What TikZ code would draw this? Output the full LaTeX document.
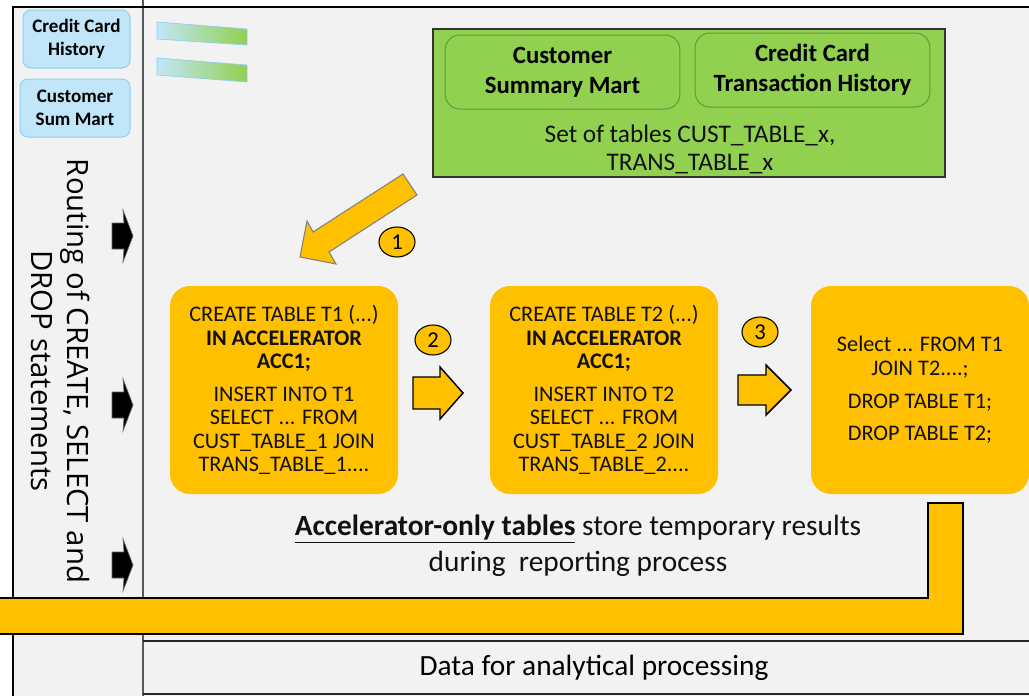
\documentclass[tikz,border=0pt]{standalone}
\usepackage{fontspec}
\setmainfont{Carlito}
\newfontfamily\routefont{Open Sans}
\usetikzlibrary{shapes.geometric}
\definecolor{bgc}{HTML}{F2F2F2}
\definecolor{orng}{HTML}{FFC000}
\definecolor{grn}{HTML}{92D050}
\definecolor{grnline}{HTML}{5F9A3C}
\definecolor{bluef}{HTML}{C2E6F9}
\definecolor{blued}{HTML}{8ECFF0}
\definecolor{vline}{HTML}{595959}
\definecolor{txt}{HTML}{111111}
\begin{document}
\begin{tikzpicture}[x=0.75pt,y=-0.75pt,
  obox/.style={fill=orng, rounded corners=15pt, minimum width=171pt, minimum height=156pt, align=center, text=txt, font=\fontsize{16.7}{17.6}\selectfont, inner sep=0pt},
  num/.style={ellipse, draw=black, line width=0.8pt, fill=orng, minimum width=27pt, minimum height=22.5pt, inner sep=0pt, font=\fontsize{17}{18}\selectfont},
  blockarrow/.style={fill=orng, draw=black, line width=1.1pt, line join=miter},
  bluebox/.style={fill=bluef, draw=blued, line width=0.75pt, rounded corners=6pt, align=center, font=\bfseries\fontsize{14.3}{17}\selectfont, inner sep=0pt},
  ginner/.style={draw=grnline, line width=0.75pt, rounded corners=11pt, align=center, font=\bfseries\fontsize{18.6}{22.5}\selectfont, minimum width=176pt, minimum height=55.5pt, inner sep=0pt},
  barshade/.style={left color=bluef, right color=grn, draw=blued, line width=0.5pt},
  blackarrow/.style={fill=black, draw=black!60, line width=0.5pt}
]
\useasboundingbox (0,0) rectangle (1029,696);
\fill[white] (0,0) rectangle (1029,696);
% background
\fill[bgc] (13,7) rectangle (1029,696);
% vertical separator
\draw[vline, line width=1.2pt] (143,0) -- (143,696);
% frame
\draw[black, line width=2.2pt] (13,700) -- (13,7) -- (1035,7);
% bottom box
\draw[black!85, line width=1.1pt] (1035,641) -- (143,641);
\draw[black!85, line width=1.1pt] (143,694) -- (1035,694);
\node (data) at (594,668) {\fontsize{22}{24}\selectfont Data for analytical processing};

% left blue boxes
\node[bluebox, minimum width=80.25pt, minimum height=43.5pt] (cch) at (76.5,39) {Credit Card\\History};
\node[bluebox, minimum width=82.5pt, minimum height=43.5pt] (csm) at (75,108) {Customer\\Sum Mart};
% gradient bars
\shadedraw[barshade] (157,22) -- (247,29) -- (247,45) -- (157,39) -- cycle;
\shadedraw[barshade] (157,58) -- (247,65) -- (247,82) -- (157,75) -- cycle;

% routing text
\node[rotate=-90, align=center, font=\routefont\fontsize{22}{27}\selectfont] (route) at (61,371) {Routing of CREATE, SELECT and\\DROP statements};
% black arrows
\foreach \c/\nm in {236/a, 405/b, 565/c}{
  \filldraw[blackarrow] (112,\c-13) -- (124,\c-13) -- (123,\c-26) -- (133,\c) -- (123,\c+26) -- (124,\c+13) -- (112,\c+13) -- cycle;
}

% green box
\draw[fill=grn, draw=black!80, line width=0.8pt] (433,29) rectangle (945,177);
\node[ginner] (csm2) at (562.5,72) {Customer\\Summary Mart};
\node[ginner] (cct) at (812.5,70) {Credit Card\\Transaction History};
\node[align=center, text=txt, font=\fontsize{19}{21}\selectfont] (set) at (690,149) {Set of tables CUST\_TABLE\_x,\\TRANS\_TABLE\_x};

% diagonal arrow 1
\filldraw[fill=orng, draw=black!50, line width=0.8pt] (403,174) -- (417,195) -- (329,252) -- (336,264) -- (300,257) -- (307,221) -- (313,232) -- cycle;
\node[num] (n1) at (397,242) {1};

% orange boxes
\node[obox] (b1) at (284,390) {CREATE TABLE T1 (...)\\\textbf{IN ACCELERATOR}\\\textbf{ACC1;}\\[7pt]INSERT INTO T1\\SELECT ... FROM\\CUST\_TABLE\_1 JOIN\\TRANS\_TABLE\_1....};
\node[obox] (b2) at (604,390) {CREATE TABLE T2 (...)\\\textbf{IN ACCELERATOR}\\\textbf{ACC1;}\\[7pt]INSERT INTO T2\\SELECT ... FROM\\CUST\_TABLE\_2 JOIN\\TRANS\_TABLE\_2....};
\node[obox, minimum width=163.5pt] (b3) at (920,390) {Select ... FROM T1\\JOIN T2....;\\[7pt]DROP TABLE T1;\\[7pt]DROP TABLE T2;};

% step arrows
\node[num] (n2) at (433,340) {2};
\filldraw[blockarrow] (413,377) -- (440,377) -- (440,367) -- (463,393) -- (440,419) -- (440,409) -- (413,409) -- cycle;
\node[num] (n3) at (760,332) {3};
\filldraw[blockarrow] (738,375) -- (766,375) -- (766,365) -- (791,390) -- (766,415) -- (766,405) -- (738,405) -- cycle;

% caption
\node[align=center, text=txt, font=\fontsize{22}{27}\selectfont] (cap) at (578,546) {\underline{\textbf{Accelerator-only tables}} store temporary results\\during\ \ reporting process};

% L-shaped band
\filldraw[fill=orng, draw=black, line width=1.8pt, line join=miter] (-10,598) -- (928,598) -- (928,503) -- (963,503) -- (963,634) -- (-10,634) -- cycle;
\end{tikzpicture}
\end{document}
